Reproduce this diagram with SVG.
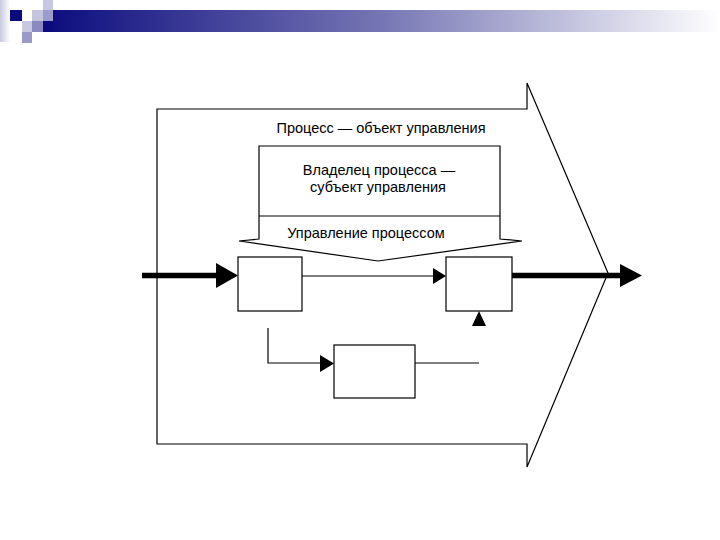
<svg xmlns="http://www.w3.org/2000/svg" width="720" height="540" viewBox="0 0 720 540">
  <defs>
    <linearGradient id="bar" x1="0" y1="0" x2="1" y2="0">
      <stop offset="0" stop-color="#0b0b7e"/>
      <stop offset="0.5" stop-color="#7676b4"/>
      <stop offset="1" stop-color="#ffffff"/>
    </linearGradient>
    <linearGradient id="side" x1="0" y1="0" x2="1" y2="0">
      <stop offset="0" stop-color="#c8c8e0"/>
      <stop offset="1" stop-color="#ffffff"/>
    </linearGradient>
    <style>
      .ln { fill: none; stroke: #000; stroke-width: 1.2; }
      .box { fill: #fff; stroke: #000; stroke-width: 1.2; }
      .thick { fill: none; stroke: #000; stroke-width: 5.5; }
      .head { fill: #000; stroke: none; }
      .t { font-family: "Liberation Sans", Arial, sans-serif; font-size: 14.5px; fill: #000; text-anchor: middle; }
    </style>
  </defs>
  <rect width="720" height="540" fill="#fff"/>

  <g id="header">
    <rect x="0" y="0" width="10" height="42" fill="url(#side)"/>
    <rect x="43" y="10" width="677" height="22" fill="url(#bar)"/>
    <rect x="43" y="21" width="10" height="11" fill="#0b0b7e"/>
    <rect x="10" y="10" width="12" height="11" fill="#0b0b7e"/>
    <rect x="43" y="0" width="10" height="10" fill="#c8c8e0"/>
    <rect x="32" y="10" width="11" height="11" fill="#c4c4de"/>
    <rect x="43" y="10" width="10" height="11" fill="#9c9cca"/>
    <rect x="22" y="21" width="10" height="11" fill="#c8c8e0"/>
    <rect x="32" y="21" width="11" height="11" fill="#8a8ac0"/>
    <rect x="22" y="32" width="10" height="11" fill="#9a9ac8"/>
  </g>

  <g id="process-arrow">
    <polygon class="ln" points="157,109 527,109 527,83 608,273 527,467 527,444 157,444"/>
    <text class="t" x="381" y="133">Процесс — объект управления</text>
  </g>

  <g id="owner">
    <polygon class="box" points="259,146 500,146 500,239 522,241 378,261 239,241 259,239"/>
    <line class="ln" x1="259" y1="216" x2="500" y2="216"/>
    <text class="t" x="379" y="175">Владелец процесса —</text>
    <text class="t" x="378" y="192">субъект управления</text>
    <text class="t" x="366" y="238">Управление процессом</text>
  </g>

  <g id="box-a"><rect class="box" x="238" y="257" width="64" height="54"/></g>
  <g id="box-b"><rect class="box" x="446" y="257" width="66" height="54"/></g>
  <g id="box-c"><rect class="box" x="334" y="345" width="81" height="53"/></g>

  <g id="connectors">
    <line class="thick" x1="142" y1="275.5" x2="218" y2="275.5"/>
    <polygon class="head" points="216,263 238,275.5 216,288"/>
    <line class="ln" x1="302" y1="276" x2="435" y2="276"/>
    <polygon class="head" points="433,268 446,276 433,284"/>
    <line class="thick" x1="512" y1="275.5" x2="622" y2="275.5"/>
    <polygon class="head" points="620,264 642,275.5 620,287"/>
    <polygon class="head" points="479,311 486,326 472,326"/>
    <polyline class="ln" points="268,328 268,363 322,363"/>
    <polygon class="head" points="320,355 334,363.5 320,372"/>
    <line class="ln" x1="415" y1="363" x2="479" y2="363"/>
  </g>
</svg>
